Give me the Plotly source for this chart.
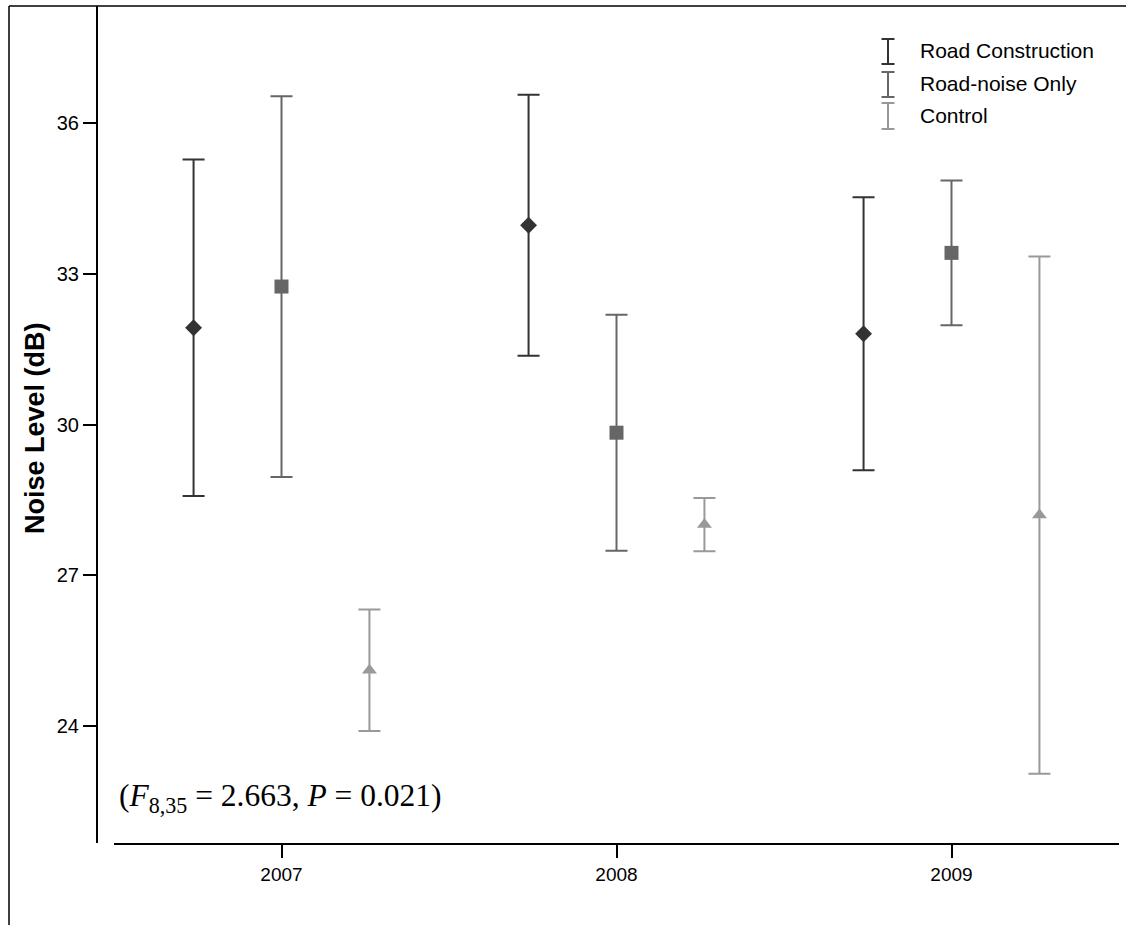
import plotly.graph_objects as go

# Mean noise level (dB) with error bars, per year and treatment
years = [2007, 2008, 2009]
year_labels = ["2007", "2008", "2009"]

series_names = ["Road Construction", "Road-noise Only", "Control"]
rc_mean = [31.93, 33.97, 31.81]
rc_err = [3.35, 2.60, 2.72]
rn_mean = [32.75, 29.84, 33.42]
rn_err = [3.79, 2.35, 1.44]
ctrl_mean = [25.11, 28.01, 28.20]
ctrl_err = [1.21, 0.53, 5.15]

y_ticks = [24, 27, 30, 33, 36]

# styling
colors = ["#333333", "#666666", "#999999"]
symbols = ["diamond", "square", "triangle-up"]
marker_sizes = [13, 14, 13]
offsets = [-0.2625, 0.0, 0.2625]
FONT = "Liberation Sans, Arial, sans-serif"

W, H = 1126, 925
# plot area in pixels
PL, PR, PT, PB = 97, 1119, 6, 843


def px_x(x):
    return (x - PL) / (PR - PL)


def px_y(y):
    return (PB - y) / (PB - PT)


fig = go.Figure()

means = [rc_mean, rn_mean, ctrl_mean]
errs = [rc_err, rn_err, ctrl_err]
for i, name in enumerate(series_names):
    fig.add_trace(go.Scatter(
        x=[yr + offsets[i] for yr in years],
        y=means[i],
        mode="markers",
        name=name,
        marker=dict(symbol=symbols[i], size=marker_sizes[i], color=colors[i],
                    line=dict(width=0)),
        error_y=dict(type="data", array=errs[i], visible=True,
                     color=colors[i], thickness=2, width=11),
        showlegend=False,
    ))

# legend drawn as error-bar glyphs with labels
legend_rows = [(39, 64), (72, 97), (103, 129)]
shapes = []
annotations = []
lx = 888
for i, name in enumerate(series_names):
    top, bot = legend_rows[i]
    for (x0, y0, x1, y1) in [(lx, top, lx, bot), (lx - 6.5, top, lx + 6.5, top),
                             (lx - 6.5, bot, lx + 6.5, bot)]:
        shapes.append(dict(type="line", xref="paper", yref="paper",
                           x0=px_x(x0), y0=px_y(y0), x1=px_x(x1), y1=px_y(y1),
                           line=dict(color=colors[i], width=2)))
    annotations.append(dict(xref="paper", yref="paper", x=px_x(918),
                            y=px_y((top + bot) / 2 - 1), xanchor="left",
                            yanchor="middle", showarrow=False, text=name,
                            font=dict(family=FONT, size=21, color="#000000")))

# outer frame (top and left edges)
shapes.append(dict(type="line", xref="paper", yref="paper",
                   x0=px_x(9), y0=px_y(6), x1=px_x(1140), y1=px_y(6),
                   line=dict(color="#000000", width=1.5)))
shapes.append(dict(type="line", xref="paper", yref="paper",
                   x0=px_x(9), y0=px_y(6), x1=px_x(9), y1=px_y(940),
                   line=dict(color="#000000", width=1.5)))

# y-axis title
annotations.append(dict(xref="paper", yref="paper", x=px_x(35), y=px_y(428),
                        xanchor="center", yanchor="middle", showarrow=False,
                        textangle=-90, text="<b>Noise Level (dB)</b>",
                        font=dict(family=FONT, size=27, color="#000000")))

# test statistic
annotations.append(dict(xref="paper", yref="paper", x=px_x(117), y=px_y(798),
                        xanchor="left", yanchor="middle", showarrow=False,
                        text="(<i>F</i><sub>8,35</sub> = 2.663, <i>P</i> = 0.021)",
                        font=dict(family="Liberation Serif, Times New Roman, serif",
                                  size=31.5, color="#000000")))

# y range from tick pixel positions (36 at y=123.3, 24 at y=726)
ppu = (726 - 123.3) / 12
y_top = 36 + (123.3 - PT) / ppu
y_bot = 24 - (PB - 726) / ppu

fig.update_layout(
    width=W, height=H,
    margin=dict(l=PL, r=W - PR, t=PT, b=H - PB, pad=0),
    paper_bgcolor="#ffffff", plot_bgcolor="#ffffff",
    font=dict(family=FONT, size=19, color="#000000"),
    shapes=shapes, annotations=annotations,
    xaxis=dict(domain=[(114 - PL) / (PR - PL), 1], range=[2006.5, 2009.5],
               tickmode="array", tickvals=years, ticktext=year_labels,
               showline=True, linecolor="#000000", linewidth=2,
               ticks="outside", ticklen=13, tickwidth=2, tickcolor="#000000",
               showgrid=False, zeroline=False,
               tickfont=dict(family=FONT, size=19), ticklabelstandoff=0),
    yaxis=dict(anchor="free", position=0, range=[y_bot, y_top],
               tickmode="array", tickvals=y_ticks,
               showline=True, linecolor="#000000", linewidth=2,
               ticks="outside", ticklen=13, tickwidth=2, tickcolor="#000000",
               showgrid=False, zeroline=False,
               tickfont=dict(family=FONT, size=20)),
)

fig.write_html("out.html")
